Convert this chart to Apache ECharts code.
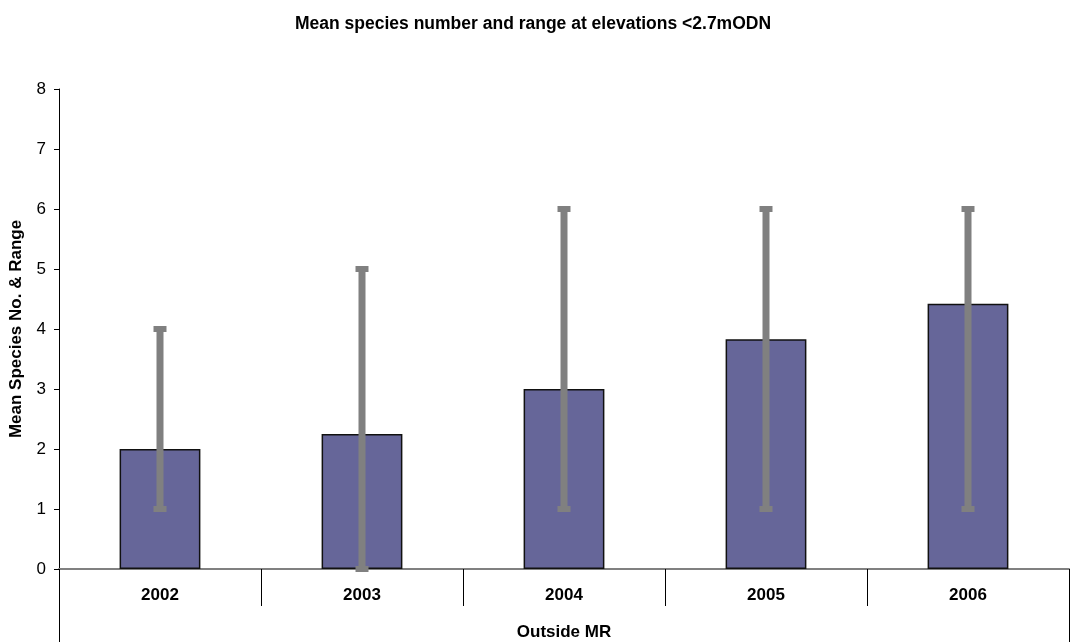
<!DOCTYPE html>
<html>
<head>
<meta charset="utf-8">
<script src="https://cdn.jsdelivr.net/npm/echarts@6/dist/echarts.min.js"></script>
<style>html,body{margin:0;padding:0;background:#fff}#c{width:1073px;height:642px}</style>
</head>
<body>
<div id="c"></div>
<script>
const categories = ['2002', '2003', '2004', '2005', '2006'];
const groupLabel = ['Outside MR'];
const meanValues = [2.0, 2.25, 3.0, 3.83, 4.42];
const rangeLow = [1, 0, 1, 1, 1];
const rangeHigh = [4, 5, 6, 6, 6];

const chart = echarts.init(document.getElementById('c'));
const FONT = 'Liberation Sans, Arial, sans-serif';
const errData = categories.map((c, i) => [i, rangeLow[i], rangeHigh[i]]);

chart.setOption({
  animation: false,
  backgroundColor: '#fff',
  title: {
    text: 'Mean species number and range at elevations <2.7mODN',
    left: 290, top: 10,
    textStyle: { fontFamily: FONT, fontSize: 17.5, fontWeight: 'bold', color: '#000' }
  },
  grid: { left: 59, right: 4, top: 89, bottom: 73, containLabel: false, outerBoundsMode: 'none' },
  xAxis: [{
    type: 'category',
    data: categories,
    position: 'bottom',
    axisLine: { show: true, lineStyle: { color: '#808080', width: 2 } },
    axisTick: { show: true, length: 37, interval: 0, lineStyle: { color: '#000', width: 1 } },
    axisLabel: { fontFamily: FONT, fontSize: 17, fontWeight: 'bold', color: '#000', margin: 18 },
    splitLine: { show: false }
  }, {
    type: 'category',
    data: groupLabel,
    position: 'bottom',
    axisLine: { show: false },
    axisTick: { show: true, length: 73, interval: 0, lineStyle: { color: '#000', width: 1 } },
    axisLabel: { fontFamily: FONT, fontSize: 17, fontWeight: 'bold', color: '#000', margin: 55 },
    splitLine: { show: false }
  }],
  yAxis: {
    type: 'value', min: 0, max: 8, interval: 1,
    name: 'Mean Species No. & Range',
    nameLocation: 'middle', nameGap: 34,
    nameTextStyle: { fontFamily: FONT, fontSize: 17, fontWeight: 'bold', color: '#000' },
    axisLine: { show: true, lineStyle: { color: '#000', width: 1 } },
    axisTick: { show: true, length: 5, lineStyle: { color: '#000' } },
    axisLabel: { fontFamily: FONT, fontSize: 17, color: '#000', margin: 13 },
    splitLine: { show: false }
  },
  series: [{
    type: 'bar',
    data: meanValues,
    barWidth: '40%',
    itemStyle: { color: '#666699', borderColor: '#111', borderWidth: 1.5 },
    z: 2
  }, {
    type: 'custom',
    data: errData,
    z: 3,
    renderItem: function (params, api) {
      const x = api.value(0);
      const lo = api.coord([x, api.value(1)]);
      const hi = api.coord([x, api.value(2)]);
      const cx = lo[0];
      const style = { fill: '#808080' };
      return {
        type: 'group',
        children: [
          { type: 'rect', shape: { x: cx - 3.5, y: hi[1], width: 7, height: lo[1] - hi[1] }, style: style },
          { type: 'rect', shape: { x: cx - 6.5, y: hi[1] - 3, width: 13, height: 6 }, style: style },
          { type: 'rect', shape: { x: cx - 6.5, y: lo[1] - 3, width: 13, height: 6 }, style: style }
        ]
      };
    }
  }]
});
</script>
</body>
</html>
